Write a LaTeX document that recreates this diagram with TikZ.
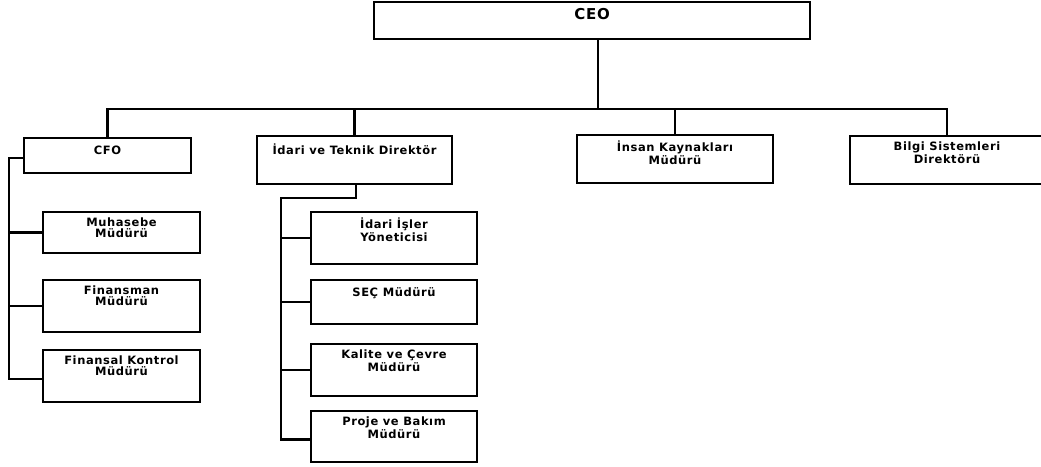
\documentclass[tikz,border=0pt]{standalone}
\usepackage{fontspec}
\setmainfont{DejaVu Sans}
\newfontfamily\widefont[LetterSpace=5]{DejaVu Sans}
\begin{document}
\begin{tikzpicture}[x=1pt,y=-1pt,
  line width=2.4pt,
  box/.style={draw,line width=2.4pt,anchor=north west,inner sep=0pt,outer sep=0pt},
  lbl/.style={anchor=north,align=center,inner sep=0pt,font=\widefont\bfseries\fontsize{11.5}{11}\selectfont},
  wire/.style={line width=2.4pt}]
\useasboundingbox (0,0) rectangle (1041,466);
\node[box,minimum width=436pt,minimum height=37pt] (ceo) at (374,2) {};
\node[lbl,font=\widefont\bfseries\fontsize{15}{15}\selectfont] at ([yshift=-5pt]ceo.north) {CEO};

\node[box,minimum width=167pt,minimum height=35pt] (cfo) at (24,138) {};
\node[lbl] at ([yshift=-7pt]cfo.north) {CFO};
\node[box,minimum width=195pt,minimum height=48pt] (idt) at (257,136) {};
\node[lbl] at ([yshift=-7pt]idt.north) {İdari ve Teknik Direktör};
\node[box,minimum width=196pt,minimum height=48pt] (ik) at (577,135) {};
\node[lbl] at ([yshift=-5pt]ik.north) {İnsan Kaynakları\\Müdürü};
\node[box,minimum width=194pt,minimum height=48pt] (bil) at (850,136) {};
\node[lbl] at ([yshift=-5pt]bil.north) {Bilgi Sistemleri\\Direktörü};

\node[box,minimum width=157pt,minimum height=41pt] (muh) at (43,212) {};
\node[lbl] at ([yshift=-5pt]muh.north) {Muhasebe\\Müdürü};
\node[box,minimum width=157pt,minimum height=52pt] (fin) at (43,280) {};
\node[lbl] at ([yshift=-5pt]fin.north) {Finansman\\Müdürü};
\node[box,minimum width=157pt,minimum height=52pt] (fk) at (43,350) {};
\node[lbl] at ([yshift=-5pt]fk.north) {Finansal Kontrol\\Müdürü};

\node[box,minimum width=166pt,minimum height=52pt] (iis) at (311,212) {};
\node[lbl] at ([yshift=-5pt]iis.north) {İdari İşler\\Yöneticisi};
\node[box,minimum width=166pt,minimum height=44pt] (sec) at (311,280) {};
\node[lbl] at ([yshift=-6pt]sec.north) {SEÇ Müdürü};
\node[box,minimum width=166pt,minimum height=52pt] (kal) at (311,344) {};
\node[lbl] at ([yshift=-5pt]kal.north) {Kalite ve Çevre\\Müdürü};
\node[box,minimum width=166pt,minimum height=51pt] (pro) at (311,411) {};
\node[lbl] at ([yshift=-5pt]pro.north) {Proje ve Bakım\\Müdürü};

\coordinate (bus) at (598,109);
\coordinate (cfoleft) at (9,158);
\coordinate (idtjoin) at (356,198);
\coordinate (idtleft) at (281,198);

\draw[wire] (ceo.south -| bus) -- (bus);
\draw[wire] (cfo.north) |- (bus) -| (bil.north);
\draw[wire] (idt.north) -- (idt.north |- bus);
\draw[wire] (ik.north) -- (ik.north |- bus);

\draw[wire] (cfo.west |- cfoleft) -- (cfoleft) |- ([yshift=-3pt]fk.west);
\draw[wire] (cfoleft |- muh.west) -- (muh.west);
\draw[wire] (cfoleft |- fin.west) -- (fin.west);

\draw[wire] (idt.south -| idtjoin) -- (idtjoin) -- (idtleft) |- ([yshift=-3pt]pro.west);
\draw[wire] (idtleft |- iis.west) -- (iis.west);
\draw[wire] (idtleft |- sec.west) -- (sec.west);
\draw[wire] (idtleft |- kal.west) -- (kal.west);
\end{tikzpicture}
\end{document}
